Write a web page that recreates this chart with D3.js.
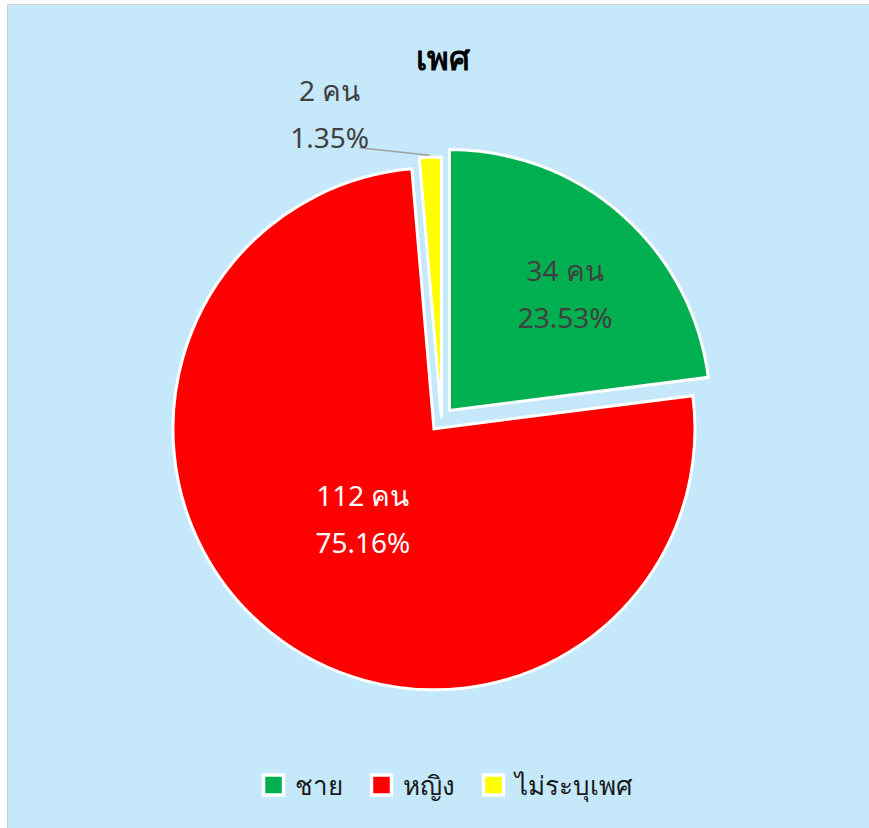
<!DOCTYPE html>
<html lang="th">
<head>
<meta charset="UTF-8">
<title>เพศ</title>
<script src="https://cdn.jsdelivr.net/npm/d3@7/dist/d3.min.js"></script>
<style>
    body { margin: 0; background: #fff; }
    svg text { font-family: "Noto Sans", "DejaVu Sans", sans-serif; }
</style>
</head>
<body>
<script>
    // data
    const categories = ["ชาย", "หญิง", "ไม่ระบุเพศ"];
    const counts = [34, 112, 2];
    const percents = [23.53, 75.16, 1.35];
    const colors = ["#00B050", "#FF0000", "#FFFF00"];

    const width = 869, height = 828;
    const cx = 441.5, cy = 419.5, radius = 261;
    // how far each slice is pulled out, px
    const explode = [12, 12, 1.5];
    // label placement per slice: distance from apex, extra angle (deg)
    const labelPos = [
        { r: 167, shift: 2.5, color: "#404040" },
        { r: 112, shift: 0.5, color: "#ffffff" },
        { r: 328, shift: -17.5, color: "#404040", outside: true }
    ];

    const svg = d3.select("body").append("svg")
        .attr("width", width)
        .attr("height", height);

    // chart area
    svg.append("rect")
        .attr("x", 7.5).attr("y", 4.5)
        .attr("width", width).attr("height", height)
        .attr("fill", "#C5E8FA")
        .attr("stroke", "#D0D0D0");

    svg.append("text")
        .attr("x", 443).attr("y", 70)
        .attr("text-anchor", "middle")
        .attr("font-size", 33)
        .attr("font-weight", "bold")
        .attr("fill", "#000")
        .text("เพศ");

    const pie = d3.pie().sort(null).value(d => d)(counts);
    const arc = d3.arc().innerRadius(0).outerRadius(radius);

    const slices = pie.map((p, i) => {
        const mid = (p.startAngle + p.endAngle) / 2;
        return {
            p, i, mid,
            ox: cx + explode[i] * Math.sin(mid),
            oy: cy - explode[i] * Math.cos(mid)
        };
    });

    const g = svg.append("g");

    g.selectAll("path")
        .data(slices)
        .enter().append("path")
        .attr("transform", d => `translate(${d.ox},${d.oy})`)
        .attr("d", d => arc(d.p))
        .attr("fill", d => colors[d.i])
        .attr("stroke", "#fff")
        .attr("stroke-width", 3)
        .attr("stroke-linejoin", "miter");

    // leader lines for outside labels
    slices.forEach(d => {
        const lp = labelPos[d.i];
        if (!lp.outside) return;
        const a = d.mid;
        const ex = d.ox + radius * Math.sin(a), ey = d.oy - radius * Math.cos(a);
        const la = a + lp.shift * Math.PI / 180;
        const lx = d.ox + lp.r * Math.sin(la), ly = d.oy - lp.r * Math.cos(la);
        g.append("line")
            .attr("x1", ex - 1).attr("y1", ey - 2)
            .attr("x2", lx + 30).attr("y2", ly + 38)
            .attr("stroke", "#A0A0A0")
            .attr("stroke-width", 1.5);
    });

    const labels = g.selectAll("g.lbl")
        .data(slices)
        .enter().append("g")
        .attr("class", "lbl")
        .attr("transform", d => {
            const lp = labelPos[d.i];
            const a = d.mid + lp.shift * Math.PI / 180;
            return `translate(${d.ox + lp.r * Math.sin(a)},${d.oy - lp.r * Math.cos(a)})`;
        })
        .attr("text-anchor", "middle")
        .attr("font-size", 28)
        .attr("fill", d => labelPos[d.i].color);

    labels.append("text")
        .attr("y", -9)
        .text(d => `${counts[d.i]} คน`);

    labels.append("text")
        .attr("y", 38)
        .text(d => `${percents[d.i].toFixed(2)}%`);

    // legend
    const legend = svg.append("g").attr("font-size", 26).attr("fill", "#1a1a1a");
    const items = legend.selectAll("g")
        .data(categories)
        .enter().append("g");

    items.append("rect")
        .attr("width", 20).attr("height", 20)
        .attr("y", -10)
        .attr("fill", (d, i) => colors[i])
        .attr("stroke", "#fff")
        .attr("stroke-width", 3.5);

    items.append("text")
        .attr("x", 31)
        .attr("y", 10)
        .text(d => d);

    let x = 0;
    const offsets = [];
    items.each(function () {
        offsets.push(x);
        const w = this.querySelector("text").getComputedTextLength();
        x += 31 + w + 29;
    });
    const total = x - 29;
    const startX = 446.5 - total / 2;
    items.attr("transform", (d, i) => `translate(${startX + offsets[i] + 1.5},785)`);
</script>
</body>
</html>
